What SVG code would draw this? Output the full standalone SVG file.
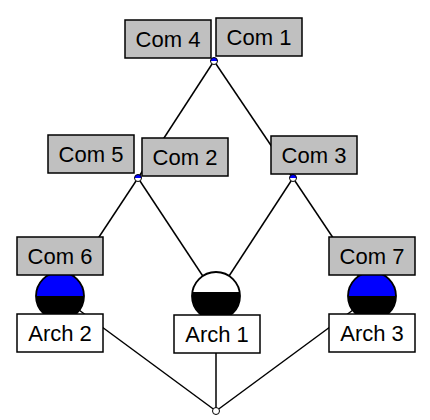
<svg xmlns="http://www.w3.org/2000/svg" width="430" height="420" viewBox="0 0 430 420">
<style>
.c{fill:#c0c0c0;stroke:#000;stroke-width:1.5}
.a{fill:#fff;stroke:#000;stroke-width:1.5}
text{font-family:"Liberation Sans",Arial,sans-serif;font-size:22px;fill:#000;text-anchor:middle}
.ln{stroke:#000;stroke-width:1.5;fill:none}
.o{fill:none;stroke:#000;stroke-width:1.8}
</style>
<defs>
<g id="jn">
<circle r="3.5" fill="#fff"/>
<path d="M-3.5,0 A3.5,3.5 0 0 1 3.5,0 Z" fill="#0000ff"/>
<circle r="3.5" fill="none" stroke="#000" stroke-width="1"/>
</g>
</defs>
<rect width="430" height="420" fill="#fff"/>
<g id="connectors" class="ln">
<line x1="214" y1="61" x2="138" y2="178"/>
<line x1="214" y1="61" x2="293" y2="178"/>
<line x1="138" y1="178" x2="60" y2="296"/>
<line x1="138" y1="178" x2="216" y2="296"/>
<line x1="293" y1="178" x2="216" y2="296"/>
<line x1="293" y1="178" x2="372" y2="296"/>
<line x1="60" y1="296" x2="216" y2="411"/>
<line x1="216" y1="296" x2="216" y2="411"/>
<line x1="372" y1="296" x2="216" y2="411"/>
</g>
<g id="j1"><use href="#jn" x="214" y="61"/></g>
<g id="j2"><use href="#jn" x="138" y="178"/></g>
<g id="j3"><use href="#jn" x="293" y="178"/></g>
<g id="j4"><circle cx="216" cy="411" r="3.5" fill="#fff" stroke="#000" stroke-width="1"/></g>
<g id="ball2">
<path d="M36,296 A24,24 0 0 1 84,296 Z" fill="#0000ff"/>
<path d="M36,296 A24,24 0 0 0 84,296 Z" fill="#000"/>
<circle class="o" cx="60" cy="296" r="24"/>
</g>
<g id="ball1">
<circle cx="216" cy="296" r="24" fill="#fff"/>
<path d="M192.34,292 A24,24 0 1 0 239.66,292 Z" fill="#000"/>
<circle class="o" cx="216" cy="296" r="24"/>
</g>
<g id="ball3">
<path d="M348,296 A24,24 0 0 1 396,296 Z" fill="#0000ff"/>
<path d="M348,296 A24,24 0 0 0 396,296 Z" fill="#000"/>
<circle class="o" cx="372" cy="296" r="24"/>
</g>
<g id="com4"><rect class="c" x="125" y="20" width="86" height="38"/><text x="168" y="47">Com 4</text></g>
<g id="com1"><rect class="c" x="216" y="18" width="86" height="38"/><text x="259" y="45">Com 1</text></g>
<g id="com5"><rect class="c" x="48" y="135" width="86" height="38"/><text x="91" y="162">Com 5</text></g>
<g id="com2"><rect class="c" x="142" y="138" width="86" height="38"/><text x="185" y="165">Com 2</text></g>
<g id="com3"><rect class="c" x="271" y="136" width="86" height="38"/><text x="314" y="163">Com 3</text></g>
<g id="com6"><rect class="c" x="17" y="237" width="86" height="38"/><text x="60" y="264">Com 6</text></g>
<g id="com7"><rect class="c" x="329" y="237" width="86" height="38"/><text x="372" y="264">Com 7</text></g>
<g id="arch2"><rect class="a" x="17" y="314" width="86" height="38"/><text x="60" y="341">Arch 2</text></g>
<g id="arch1"><rect class="a" x="174" y="315" width="86" height="38"/><text x="217" y="342">Arch 1</text></g>
<g id="arch3"><rect class="a" x="329" y="314" width="86" height="38"/><text x="372" y="341">Arch 3</text></g>
</svg>
